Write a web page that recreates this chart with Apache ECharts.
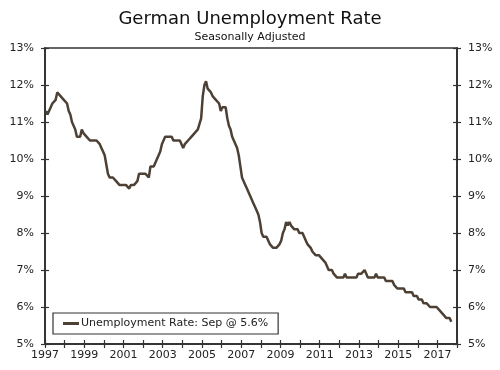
<!DOCTYPE html>
<html>
<head>
<meta charset="utf-8">
<script src="https://cdn.jsdelivr.net/npm/echarts@6/dist/echarts.min.js"></script>
<style>html,body{margin:0;padding:0;background:#fff}#c{width:500px;height:370px}</style>
</head>
<body>
<div id="c"></div>
<script>
// Monthly seasonally adjusted German unemployment rate (%), Jan of each year onward
var startYear = 1997;
var v1997 = [11.3,11.2,11.2,11.4,11.5,11.5,11.6,11.8,11.8,11.7,11.7,11.6];
var v1998 = [11.6,11.5,11.3,11.2,11.0,10.9,10.8,10.6,10.6,10.6,10.8,10.7];
var v1999 = [10.7,10.6,10.6,10.5,10.5,10.5,10.5,10.5,10.5,10.4,10.3,10.2];
var v2000 = [10.1,10.1,9.6,9.5,9.5,9.5,9.5,9.4,9.4,9.3,9.3,9.3];
var v2001 = [9.3,9.3,9.3,9.2,9.3,9.3,9.3,9.3,9.4,9.6,9.6,9.6];
var v2002 = [9.6,9.6,9.6,9.5,9.8,9.8,9.8,9.9,10.0,10.1,10.2,10.4];
var v2003 = [10.5,10.6,10.6,10.6,10.6,10.6,10.5,10.5,10.5,10.5,10.5,10.5];
var v2004 = [10.3,10.4,10.4,10.5,10.5,10.6,10.6,10.7,10.7,10.8,10.8,11.1];
var v2005 = [11.7,12.0,12.1,11.9,11.9,11.8,11.7,11.7,11.6,11.6,11.5,11.3];
var v2006 = [11.4,11.4,11.4,11.1,10.9,10.8,10.6,10.5,10.5,10.3,10.1,9.8];
var v2007 = [9.5,9.4,9.3,9.2,9.1,9.0,8.9,8.8,8.7,8.6,8.5,8.3];
var v2008 = [8.0,7.9,7.9,7.9,7.8,7.7,7.7,7.6,7.6,7.6,7.6,7.7];
var v2009 = [7.8,8.0,8.1,8.3,8.2,8.3,8.2,8.2,8.1,8.1,8.1,8.0];
var v2010 = [8.0,8.0,8.0,7.8,7.7,7.7,7.6,7.5,7.5,7.4,7.4,7.4];
var v2011 = [7.4,7.3,7.3,7.2,7.1,7.0,7.0,7.0,6.9,6.9,6.8,6.8];
var v2012 = [6.8,6.8,6.8,6.9,6.8,6.8,6.8,6.8,6.8,6.8,6.8,6.9];
var v2013 = [6.9,6.9,6.9,7.0,6.9,6.8,6.8,6.8,6.8,6.8,6.9,6.8];
var v2014 = [6.8,6.8,6.8,6.8,6.7,6.7,6.7,6.7,6.7,6.6,6.6,6.5];
var v2015 = [6.5,6.5,6.5,6.5,6.4,6.4,6.4,6.4,6.4,6.3,6.3,6.3];
var v2016 = [6.2,6.2,6.2,6.1,6.1,6.1,6.1,6.0,6.0,6.0,6.0,6.0];
var v2017 = [6.0,5.9,5.9,5.8,5.8,5.7,5.7,5.7,5.6];

var yearly = [v1997,v1998,v1999,v2000,v2001,v2002,v2003,v2004,v2005,v2006,v2007,v2008,v2009,v2010,v2011,v2012,v2013,v2014,v2015,v2016,v2017];
var seriesName = 'Unemployment Rate: Sep @ 5.6%';
var titleText = 'German Unemployment Rate';
var subtitleText = 'Seasonally Adjusted';
var xMin = 1997, xMax = 2018, yMin = 5, yMax = 13;

var data = [];
yearly.forEach(function (arr, yi) {
  arr.forEach(function (v, m) {
    data.push([startYear + yi + (m + 0.5) / 12, v]);
  });
});

var FONT = 'DejaVu Sans';
var axisCol = '#333';
var lblCol = '#222';

function yAx(pos, inside, labels) {
  return {
    type: 'value', position: pos, min: yMin, max: yMax, interval: 1,
    axisLine: {show: true, lineStyle: {color: axisCol, width: 1.5}},
    axisTick: {show: true, inside: inside, length: 4, lineStyle: {color: axisCol, width: 1.2}},
    axisLabel: {show: labels, margin: 11, color: lblCol, fontFamily: FONT, fontSize: 11,
      formatter: function (v) { return v + '%'; }},
    splitLine: {show: false}
  };
}
function xAx(inside, labels) {
  return {
    type: 'value', position: 'bottom', min: xMin, max: xMax, interval: 1,
    axisLine: {show: true, lineStyle: {color: axisCol, width: 1.5}},
    axisTick: {show: true, inside: inside, length: 4, lineStyle: {color: axisCol, width: 1.2}},
    axisLabel: {show: labels, margin: 6, color: lblCol, fontFamily: FONT, fontSize: 11,
      showMaxLabel: true, showMinLabel: true,
      formatter: function (v) { return (v % 2 === 1) ? String(v) : ''; }},
    splitLine: {show: false}
  };
}

var chart = echarts.init(document.getElementById('c'), null, {renderer: 'canvas'});
chart.setOption({
  animation: false,
  backgroundColor: '#fff',
  title: [
    {text: titleText, left: 'center', top: 5, textStyle: {fontFamily: FONT, fontSize: 18, fontWeight: 'normal', color: '#111'}},
    {text: subtitleText, left: 'center', top: 27, textStyle: {fontFamily: FONT, fontSize: 11, fontWeight: 'normal', color: '#111'}}
  ],
  grid: {left: 45, right: 43, top: 48, bottom: 26, show: true, borderColor: axisCol, borderWidth: 1.5, backgroundColor: 'transparent'},
  xAxis: [xAx(false, true), xAx(true, false)],
  yAxis: [yAx('left', false, true), yAx('left', true, false), yAx('right', false, true), yAx('right', true, false)],
  legend: {
    show: true, left: 53, top: 313, orient: 'horizontal',
    padding: [5, 10, 5, 10],
    borderColor: '#333', borderWidth: 1.2, backgroundColor: '#fff',
    icon: 'rect', itemWidth: 16, itemHeight: 3,
    textStyle: {fontFamily: FONT, fontSize: 11, color: lblCol, padding: [0, 0, 0, -3]},
    data: [seriesName]
  },
  series: [{
    name: seriesName, type: 'line', xAxisIndex: 0, yAxisIndex: 0,
    data: data, showSymbol: false, symbol: 'none',
    lineStyle: {color: '#4d4035', width: 2.5},
    itemStyle: {color: '#4d4035'}
  }]
});
</script>
</body>
</html>
